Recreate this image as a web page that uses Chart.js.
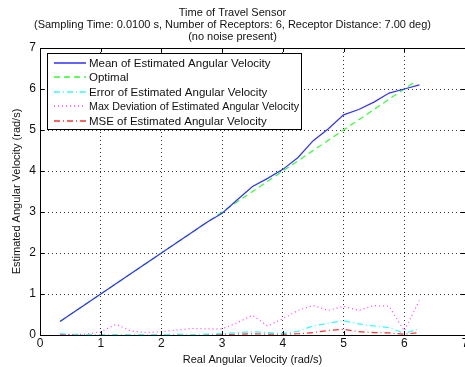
<!DOCTYPE html>
<html>
<head>
<meta charset="utf-8">
<script src="https://cdn.jsdelivr.net/npm/chart.js@4/dist/chart.umd.min.js"></script>
<style>
  html, body { margin: 0; padding: 0; background: #fff; }
  #wrap { width: 465px; height: 367px; position: relative; }
</style>
</head>
<body>
<div id="wrap"><canvas id="chart"></canvas></div>
<script>
// real angular velocity (rad/s)
const xValues = [0.33, 0.5, 0.75, 1, 1.25, 1.5, 1.75, 2, 2.25, 2.5, 2.75, 3, 3.25,
                 3.5, 3.75, 4, 4.25, 4.5, 4.75, 5, 5.25, 5.5, 5.75, 6, 6.25];
const meanValues = [0.33, 0.5, 0.75, 1, 1.25, 1.5, 1.75, 2, 2.25, 2.5, 2.75, 2.97, 3.3,
                    3.62, 3.82, 4.04, 4.33, 4.74, 5.03, 5.37, 5.5, 5.68, 5.9, 6.0, 6.1];
const optimalX = [0.33, 6.2];
const optimalY = [0.33, 6.2];
const errorValues = [0.03, 0.02, 0.01, 0.01, 0.01, 0.01, 0.01, 0.01, 0.02, 0.01, 0.02, 0.03, 0.06,
                     0.08, 0.06, 0.04, 0.09, 0.22, 0.29, 0.35, 0.27, 0.22, 0.18, 0.04, 0.15];
const maxDevValues = [0.02, 0.01, 0.02, 0.08, 0.26, 0.1, 0.06, 0.08, 0.12, 0.16, 0.15, 0.15, 0.3,
                      0.48, 0.22, 0.4, 0.6, 0.72, 0.6, 0.7, 0.6, 0.72, 0.7, 0.1, 0.85];
const mseValues = [0.01, 0.01, 0.01, 0.01, 0.01, 0.01, 0.01, 0.01, 0.01, 0.01, 0.01, 0.01, 0.02,
                   0.03, 0.02, 0.02, 0.03, 0.06, 0.11, 0.14, 0.08, 0.06, 0.05, 0.02, 0.06];
const axisTicks = [0, 1, 2, 3, 4, 5, 6, 7];
const titleLines = [
  'Time of Travel Sensor',
  '(Sampling Time: 0.0100 s, Number of Receptors: 6, Receptor Distance: 7.00 deg)',
  '(no noise present)'
];

const FONT = '"Liberation Sans", Arial, sans-serif';

function pairs(xs, ys) {
  return xs.map((x, i) => ({ x: x, y: ys[i] }));
}

const series = [
  { label: 'Mean of Estimated Angular Velocity', data: pairs(xValues, meanValues), color: '#3030ff', dash: [] },
  { label: 'Optimal', data: pairs(optimalX, optimalY), color: '#30ff30', dash: [6, 4] },
  { label: 'Error of Estimated Angular Velocity', data: pairs(xValues, errorValues), color: '#30ffff', dash: [6, 3, 1, 3] },
  { label: 'Max Deviation of Estimated Angular Velocity', data: pairs(xValues, maxDevValues), color: '#ff40ff', dash: [1, 3] },
  { label: 'MSE of Estimated Angular Velocity', data: pairs(xValues, mseValues), color: '#ff3030', dash: [6, 3, 1, 3] }
];

// frame around the plot and legend box inside it
const framePlugin = {
  id: 'frame',
  afterDraw(chart) {
    const ctx = chart.ctx;
    const a = chart.chartArea;
    ctx.save();
    ctx.strokeStyle = '#000';
    ctx.lineWidth = 1;
    ctx.setLineDash([]);
    ctx.strokeRect(Math.round(a.left) + 0.5, Math.round(a.top) + 0.5,
                   Math.round(a.right - a.left), Math.round(a.bottom - a.top));
    // inward tick marks
    const xs = chart.scales.x, ys = chart.scales.y;
    ctx.beginPath();
    axisTicks.forEach(t => {
      const px = Math.round(xs.getPixelForValue(t)) + 0.5;
      ctx.moveTo(px, a.bottom); ctx.lineTo(px, a.bottom - 4);
      ctx.moveTo(px, a.top); ctx.lineTo(px, a.top + 4);
      const py = Math.round(ys.getPixelForValue(t)) + 0.5;
      ctx.moveTo(a.left, py); ctx.lineTo(a.left + 4, py);
      ctx.moveTo(a.right, py); ctx.lineTo(a.right - 4, py);
    });
    ctx.stroke();

    // legend
    const bx = 47.5, by = 53.5, bw = 254, bh = 76;
    ctx.fillStyle = '#fff';
    ctx.fillRect(bx, by, bw, bh);
    ctx.strokeRect(bx, by, bw, bh);
    const rows = [63, 77, 92, 106, 121];
    ctx.font = '11.5px ' + FONT;
    ctx.textBaseline = 'middle';
    series.forEach((s, i) => {
      ctx.strokeStyle = s.color;
      ctx.lineWidth = 1.5;
      ctx.setLineDash(s.dash);
      ctx.beginPath();
      ctx.moveTo(54, rows[i]);
      ctx.lineTo(86, rows[i]);
      ctx.stroke();
      ctx.fillStyle = '#111';
      ctx.fillText(s.label, 89, rows[i] + 0.5, 210);
    });
    ctx.restore();
  }
};

new Chart(document.getElementById('chart'), {
  type: 'line',
  data: {
    datasets: series.map(s => ({
      label: s.label,
      data: s.data,
      borderColor: s.color,
      borderDash: s.dash,
      borderWidth: 1.2,
      pointRadius: 0,
      tension: 0,
      fill: false
    }))
  },
  options: {
    responsive: true,
    maintainAspectRatio: false,
    animation: false,
    layout: { padding: { left: 0, right: 0, top: 0, bottom: 0 } },
    plugins: {
      legend: { display: false },
      tooltip: { enabled: false },
      title: {
        display: true,
        text: titleLines,
        color: '#111',
        font: { family: FONT, size: 11, weight: 'normal', lineHeight: '12px' },
        padding: { top: 7, bottom: 5 }
      }
    },
    scales: {
      x: {
        type: 'linear',
        min: 0, max: 7,
        afterBuildTicks: s => { s.ticks = axisTicks.map(v => ({ value: v })); },
        afterFit: s => { s.height = 32; s.paddingLeft = 0; s.paddingRight = 0; },
        ticks: { color: '#111', font: { family: FONT, size: 12 }, padding: 1 },
        grid: { color: '#333', drawTicks: false, tickLength: 0 },
        border: { display: false, dash: [1, 3] },
        title: {
          display: true,
          text: 'Real Angular Velocity (rad/s)',
          color: '#111',
          font: { family: FONT, size: 11 },
          padding: { top: 0, bottom: 0 }
        }
      },
      y: {
        type: 'linear',
        min: 0, max: 7,
        afterBuildTicks: s => { s.ticks = axisTicks.map(v => ({ value: v })); },
        afterFit: s => { s.width = 40; },
        ticks: { color: '#111', font: { family: FONT, size: 12 }, padding: 4 },
        grid: { color: '#333', drawTicks: false, tickLength: 0 },
        border: { display: false, dash: [1, 3] },
        title: {
          display: true,
          text: 'Estimated Angular Velocity (rad/s)',
          color: '#111',
          font: { family: FONT, size: 11 },
          padding: { top: 10, bottom: 4 }
        }
      }
    }
  },
  plugins: [framePlugin]
});
</script>
</body>
</html>
